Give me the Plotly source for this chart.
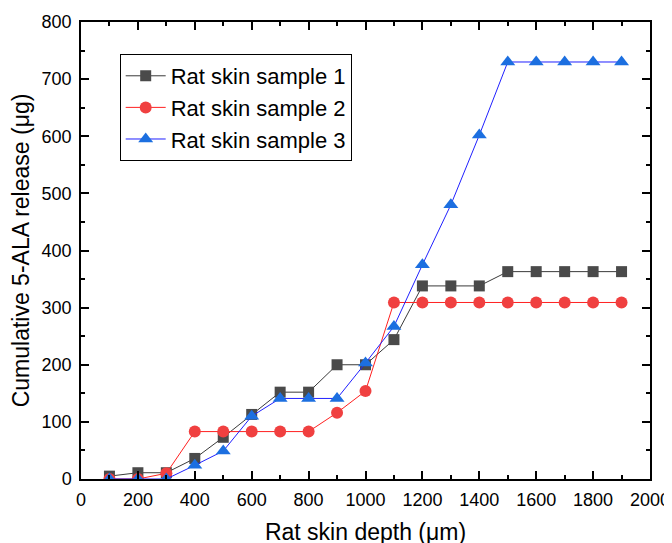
import plotly.graph_objects as go

depth = [100, 200, 300, 400, 500, 600, 700, 800, 900, 1000, 1100, 1200, 1300, 1400, 1500, 1600, 1700, 1800, 1900]
sample1 = [5, 11, 11, 36, 73, 113, 152, 152, 200, 200, 244, 338, 338, 338, 363, 363, 363, 363, 363]
sample2 = [0, 0, 10, 83, 83, 83, 83, 83, 116, 154, 309, 309, 309, 309, 309, 309, 309, 309, 309]
sample3 = [0, 0, 0, 24, 49, 110, 141, 141, 141, 203, 267, 375, 480, 602, 730, 730, 730, 730, 730]
names = ["Rat skin sample 1", "Rat skin sample 2", "Rat skin sample 3"]

FONT = "Liberation Sans, Arial, sans-serif"

fig = go.Figure()
fig.add_trace(go.Scatter(x=depth, y=sample1, name=names[0], mode="lines+markers",
                         line=dict(color="#3a3a3a", width=1),
                         marker=dict(symbol="square", size=11, color="#4a4a4a")))
fig.add_trace(go.Scatter(x=depth, y=sample2, name=names[1], mode="lines+markers",
                         line=dict(color="#ff2020", width=1),
                         marker=dict(symbol="circle", size=12, color="#f04040")))
fig.add_trace(go.Scatter(x=depth, y=sample3, name=names[2], mode="lines+markers",
                         line=dict(color="#2020ff", width=1),
                         marker=dict(symbol="triangle-up", size=13, color="#1c6fe0")))

axis_common = dict(showline=True, linecolor="black", linewidth=1.5, mirror="allticks",
                   ticks="inside", ticklen=8, tickwidth=1.5, tickcolor="black",
                   showgrid=False, zeroline=False, automargin=False,
                   tickfont=dict(family=FONT, size=18, color="black"))

fig.update_xaxes(range=[0, 2000], dtick=200, ticklabelstandoff=4,
                 minor=dict(ticks="inside", ticklen=4, dtick=100, tickcolor="black", tickwidth=1.5),
                 title=dict(text="Rat skin depth (μm)", font=dict(family=FONT, size=23, color="black")),
                 **axis_common)
fig.update_yaxes(range=[0, 800], dtick=100, ticklabelstandoff=4,
                 minor=dict(ticks="inside", ticklen=4, dtick=50, tickcolor="black", tickwidth=1.5),
                 title=dict(text="Cumulative 5-ALA release (μg)", font=dict(family=FONT, size=23, color="black")),
                 **axis_common)

fig.update_layout(
    width=672, height=543,
    margin=dict(l=73, r=30, t=14, b=72),
    plot_bgcolor="white", paper_bgcolor="white",
    font=dict(family=FONT, color="black"),
    legend=dict(x=0.068, y=0.93, xanchor="left", yanchor="top",
                bordercolor="black", borderwidth=1, bgcolor="white",
                font=dict(family=FONT, size=22, color="black"),
                itemwidth=40, tracegroupgap=0),
    showlegend=True,
)

fig.write_html("out.html")
